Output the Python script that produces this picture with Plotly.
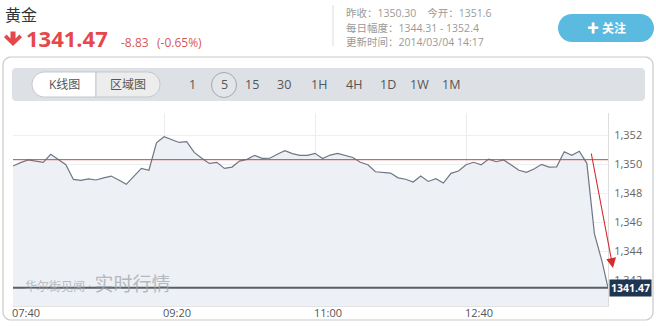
import math
import pandas as pd
import plotly.graph_objects as go

# ---------------- data ----------------
times = list(pd.date_range("2014-03-04 07:40", periods=79, freq="5min").strftime("%Y-%m-%d %H:%M")) + ["2014-03-04 14:14"]
prices = [1349.86, 1350.10, 1350.28, 1350.20, 1350.12, 1350.67, 1350.30, 1349.95, 1348.94, 1348.87,
          1348.97, 1348.90, 1349.05, 1349.17, 1348.90, 1348.60, 1349.15, 1349.70, 1349.57, 1351.47,
          1351.88, 1351.70, 1351.49, 1351.54, 1350.80, 1350.40, 1350.04, 1350.12, 1349.70, 1349.79,
          1350.20, 1350.32, 1350.60, 1350.39, 1350.40, 1350.68, 1350.92, 1350.72, 1350.60, 1350.60,
          1350.74, 1350.38, 1350.62, 1350.74, 1350.62, 1350.45, 1350.12, 1349.95, 1349.47, 1349.43,
          1349.38, 1349.05, 1348.95, 1348.76, 1349.17, 1348.80, 1348.99, 1348.69, 1349.36, 1349.52,
          1349.95, 1350.12, 1349.95, 1350.34, 1350.16, 1350.28, 1349.90, 1349.57, 1349.43, 1349.66,
          1349.98, 1349.79, 1349.81, 1350.85, 1350.60, 1350.88, 1350.05, 1345.20, 1343.30, 1341.47]
prev_close = 1350.30
last_price = 1341.47
change = -8.83
change_pct = -0.65
open_price = "1351.6"
day_range = "1344.31 - 1352.4"
update_time = "2014/03/04 14:17"
x_tickvals = ["2014-03-04 07:40", "2014-03-04 09:20", "2014-03-04 11:00", "2014-03-04 12:40"]
x_ticktext = ["07:40", "09:20", "11:00", "12:40"]
y_tickvals = [1342, 1344, 1346, 1348, 1350, 1352]
periods = ["1", "5", "15", "30", "1H", "4H", "1D", "1W", "1M"]
period_x = [192, 224, 252, 284, 319, 354, 388, 419, 451]

# ---------------- layout geometry (pixels) ----------------
W, H = 656, 326
L, R, T, B = 13, 608, 113, 306


def px(x):
    return (x - L) / (R - L)


def py(y):
    return (B - y) / (B - T)


def rr_path(x0, y0, x1, y1, rads):
    """rounded rect path in paper coords; rads = (tl, tr, br, bl) in px"""
    tl, tr, br, bl = rads
    pts = []

    def arc(cx, cy, r, a0, a1):
        n = 8
        for i in range(n + 1):
            a = math.radians(a0 + (a1 - a0) * i / n)
            pts.append((cx + r * math.cos(a), cy + r * math.sin(a)))

    if tl: arc(x0 + tl, y0 + tl, tl, 180, 270)
    else: pts.append((x0, y0))
    if tr: arc(x1 - tr, y0 + tr, tr, 270, 360)
    else: pts.append((x1, y0))
    if br: arc(x1 - br, y1 - br, br, 0, 90)
    else: pts.append((x1, y1))
    if bl: arc(x0 + bl, y1 - bl, bl, 90, 180)
    else: pts.append((x0, y1))
    return "M" + " L".join(f"{px(a):.5f},{py(b):.5f}" for a, b in pts) + " Z"


def poly_path(points):
    return "M" + " L".join(f"{px(a):.5f},{py(b):.5f}" for a, b in points) + " Z"


BASE_FONT = "Open Sans, Noto Sans CJK SC, sans-serif"
RED = "#e5484b"

fig = go.Figure()
fig.add_trace(go.Scatter(
    x=times, y=prices, mode="lines",
    line=dict(color="#6f7684", width=1.2),
    fill="tozeroy", fillcolor="#edf0f5",
    hoverinfo="skip", showlegend=False,
))

shapes = []
shapes.append(dict(type="path", xref="paper", yref="paper", path=rr_path(3, 57, 653, 320, (8, 8, 8, 8)),
                   line=dict(color="#c9c9c9", width=1.2), fillcolor="rgba(0,0,0,0)", layer="below"))
shapes.append(dict(type="line", xref="paper", yref="paper", x0=px(333), x1=px(333), y0=py(5), y1=py(46),
                   line=dict(color="#dddddd", width=1)))
shapes.append(dict(type="path", xref="paper", yref="paper", path=rr_path(12, 68, 645, 101, (4, 4, 4, 4)),
                   line=dict(width=0), fillcolor="#dde1e5", layer="below"))
shapes.append(dict(type="path", xref="paper", yref="paper", path=rr_path(32, 72, 96, 97, (12.5, 0, 0, 12.5)),
                   line=dict(color="#c4c7cb", width=1), fillcolor="#ffffff"))
shapes.append(dict(type="path", xref="paper", yref="paper", path=rr_path(96, 72, 160, 97, (0, 12.5, 12.5, 0)),
                   line=dict(color="#c4c7cb", width=1), fillcolor="#ededed"))
shapes.append(dict(type="circle", xref="paper", yref="paper", x0=px(211.5), x1=px(236.5), y0=py(97.5), y1=py(72.5),
                   line=dict(color="#a5a9ad", width=1), fillcolor="#e3e6e9"))
shapes.append(dict(type="path", xref="paper", yref="paper", path=rr_path(558, 14, 654, 42, (14, 14, 14, 14)),
                   line=dict(width=0), fillcolor="#5bbadf"))
shapes.append(dict(type="path", xref="paper", yref="paper",
                   path=poly_path([(10.5, 31.5), (15.5, 31.5), (15.5, 38.5), (19.5, 34.5), (22, 37.2),
                                   (13, 46), (4, 37.2), (6.5, 34.5), (10.5, 38.5)]),
                   line=dict(width=0), fillcolor=RED))
# previous close reference line
shapes.append(dict(type="line", xref="paper", yref="y", x0=0, x1=1, y0=prev_close, y1=prev_close,
                   line=dict(color="#cc3f3b", width=1)))
# last price line
shapes.append(dict(type="line", xref="paper", yref="y", x0=0, x1=1, y0=last_price, y1=last_price,
                   line=dict(color="#5a6068", width=2)))

ann = []


def text(x, y, s, size, color, anchor="left", family=BASE_FONT, **kw):
    ann.append(dict(xref="paper", yref="paper", x=px(x), y=py(y), text=s, showarrow=False,
                    xanchor=anchor, yanchor="middle", font=dict(size=size, color=color, family=family), **kw))


text(3, 15, "黄金", 16, "#333333")
text(24, 38, f"<b>{last_price:.2f}</b>", 22, RED)
text(119, 42, f"{change:.2f}", 12, "#d8575a")
text(155, 42, f"({change_pct:.2f}%)", 12, "#d8575a")
text(344, 13, f"昨收：{prev_close:.2f}    今开：{open_price}", 10.5, "#9a9a9a")
text(344, 28, f"每日幅度：{day_range}", 10.5, "#9a9a9a")
text(344, 42, f"更新时间：{update_time}", 10.5, "#9a9a9a")
text(606, 28, "<b>✚ 关注</b>", 12, "#ffffff", anchor="center")
text(64, 85, "K线图", 12, "#555555", anchor="center")
text(128, 85, "区域图", 12, "#555555", anchor="center")
for p, xx in zip(periods, period_x):
    text(xx, 85, p, 12.5, "#555555", anchor="center")
ann.append(dict(xref="paper", yref="paper", x=px(23), y=py(299), xanchor="left", yanchor="bottom",
                text="华尔街见闻 · <span style='font-size:19px'>实时行情</span>", showarrow=False,
                font=dict(size=12, color="rgba(160,165,172,0.75)", family=BASE_FONT)))
ann.append(dict(xref="paper", yref="y", x=1, y=last_price, xanchor="left", yanchor="middle", xshift=1,
                text=f"<b>{last_price:.2f}</b>", showarrow=False, bgcolor="#1f3552", borderpad=1,
                font=dict(size=10.5, color="#ffffff", family=BASE_FONT)))
ann.append(dict(xref="paper", yref="paper", x=px(613), y=py(268), text="", showarrow=True,
                axref="pixel", ayref="pixel", ax=-22, ay=-116, arrowhead=2, arrowsize=1.8,
                arrowwidth=1.1, arrowcolor="#d42b2b", standoff=0))

fig.update_layout(
    width=W, height=H,
    margin=dict(l=L, r=W - R, t=T, b=H - B, pad=0, autoexpand=False),
    paper_bgcolor="#ffffff", plot_bgcolor="#ffffff",
    font=dict(family=BASE_FONT, size=11, color="#555555"),
    showlegend=False,
    shapes=shapes, annotations=ann,
    xaxis=dict(type="date", range=[times[0], times[-1]], tickvals=x_tickvals, ticktext=x_ticktext,
               showgrid=True, gridcolor="#ececec", gridwidth=1, zeroline=False, automargin=False,
               showline=True, linecolor="#e3e3e3", ticks="", ticklabelshift=13, ticklabelstandoff=-3,
               tickfont=dict(size=11, color="#555555"), fixedrange=True),
    yaxis=dict(side="right", range=[1340.21, 1353.52], tickvals=y_tickvals, tickformat=",d",
               showgrid=True, gridcolor="#efefef", zeroline=False, automargin=False,
               showline=True, linecolor="#dddddd", ticks="", ticklabelstandoff=3,
               tickfont=dict(size=11, color="#666666"), fixedrange=True),
)

fig.write_html("out.html")
